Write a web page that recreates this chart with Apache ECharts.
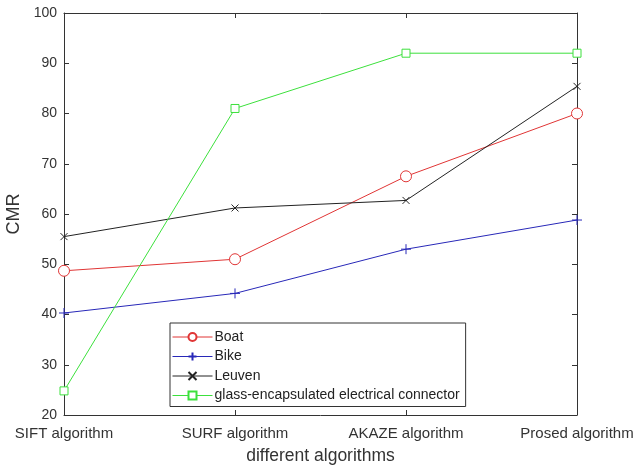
<!DOCTYPE html>
<html><head><meta charset="utf-8">
<script src="https://cdn.jsdelivr.net/npm/echarts@6/dist/echarts.min.js"></script>
<style>html,body{margin:0;padding:0;background:#fff}#c{width:635px;height:465px}</style>
</head><body><div id="c"></div>
<script>
var categories = ['SIFT algorithm', 'SURF algorithm', 'AKAZE algorithm', 'Prosed algorithm'];
var boat = [48.7, 51.0, 67.5, 80.0];
var bike = [40.3, 44.2, 53.0, 58.8];
var leuven = [55.5, 61.2, 62.7, 85.4];
var glass = [24.8, 81.0, 92.0, 92.0];
var seriesNames = ['Boat', 'Bike', 'Leuven', 'glass-encapsulated electrical connector'];
var yMin = 20, yMax = 100, yStep = 10;

var font = 'Liberation Sans, Arial, sans-serif';
var chart = echarts.init(document.getElementById('c'));
function mk(name, data, color, symbol, size, fill) {
  return {
    name: name, type: 'line', data: data, symbol: symbol, symbolSize: size,
    showAllSymbol: true,
    lineStyle: {color: color, width: 1},
    itemStyle: {color: fill, borderColor: color, borderWidth: 1}
  };
}
var plus = 'path://M5,0L5,10M0,5L10,5';
var cross = 'path://M0,0L10,10M10,0L0,10';
chart.setOption({
  animation: false,
  textStyle: {fontFamily: font},
  grid: {left: 64, right: 58, top: 13, bottom: 50, show: false, containLabel: false, outerBoundsMode: 'none'},
  legend: {
    orient: 'vertical', left: 170, top: 323,
    data: seriesNames,
    itemWidth: 40, itemHeight: 10, itemGap: 5.5,
    padding: [7, 6, 4, 2],
    borderColor: '#333', borderWidth: 1, backgroundColor: '#fff',
    textStyle: {fontSize: 14, color: '#222', fontFamily: font, padding: [0, 0, 0, -3]},
    lineStyle: {width: 1}
  },
  xAxis: [{
    type: 'category', data: categories, boundaryGap: false,
    name: 'different algorithms', nameLocation: 'middle', nameGap: 32,
    nameTextStyle: {fontSize: 17.5, color: '#333', fontFamily: font},
    axisLine: {lineStyle: {color: '#333'}},
    axisTick: {inside: true, length: 5, lineStyle: {color: '#333'}},
    axisLabel: {fontSize: 15, color: '#333', margin: 11, fontFamily: font},
    splitLine: {show: false}
  }, {
    type: 'category', data: categories, boundaryGap: false, position: 'top',
    axisLine: {lineStyle: {color: '#333'}},
    axisTick: {inside: true, length: 5, lineStyle: {color: '#333'}},
    axisLabel: {show: false}
  }],
  yAxis: [{
    type: 'value', min: yMin, max: yMax, interval: yStep,
    name: 'CMR', nameLocation: 'middle', nameGap: 39,
    nameTextStyle: {fontSize: 18, color: '#333', fontFamily: font},
    axisLine: {show: true, lineStyle: {color: '#333'}},
    axisTick: {show: true, inside: true, length: 5, lineStyle: {color: '#333'}},
    axisLabel: {fontSize: 14, color: '#333', margin: 7, fontFamily: font},
    splitLine: {show: false}
  }, {
    type: 'value', min: yMin, max: yMax, interval: yStep, position: 'right',
    axisLine: {show: true, lineStyle: {color: '#333'}},
    axisTick: {show: true, inside: true, length: 5, lineStyle: {color: '#333'}},
    axisLabel: {show: false},
    splitLine: {show: false}
  }],
  series: [
    mk(seriesNames[0], boat, '#e03535', 'circle', 11, '#fff'),
    mk(seriesNames[1], bike, '#2828b8', plus, 10, 'none'),
    mk(seriesNames[2], leuven, '#222222', cross, 7, 'none'),
    mk(seriesNames[3], glass, '#3ce03c', 'rect', 8, '#fff')
  ]
});
</script></body></html>
